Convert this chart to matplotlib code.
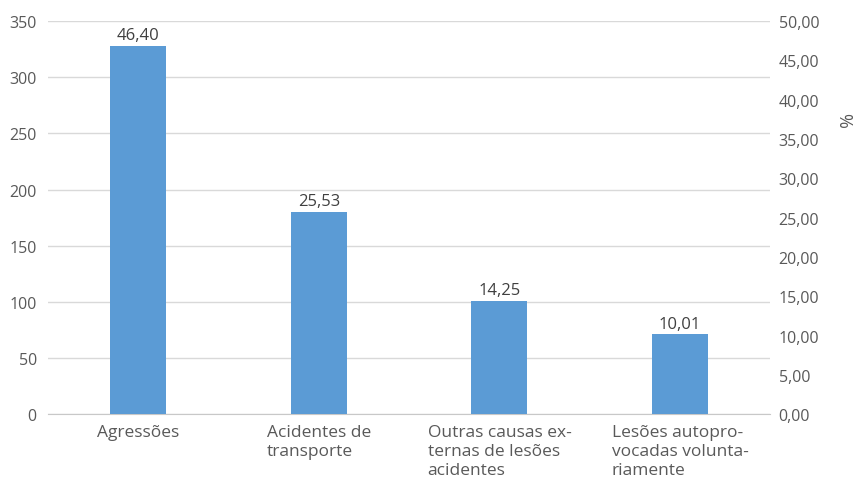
import matplotlib.pyplot as plt
import numpy as np

categories = ["Agressões", "Acidentes de\ntransporte", "Outras causas ex-\nternas de lesões\nacidentes",
              "Lesões autopro-\nvocadas volunta-\nriamente"]
counts = [328, 180, 101, 71]
percent_labels = ["46,40", "25,53", "14,25", "10,01"]
left_ticks = [0, 50, 100, 150, 200, 250, 300, 350]
right_ticks = [0, 5, 10, 15, 20, 25, 30, 35, 40, 45, 50]

plt.rcParams['font.family'] = ['Open Sans', 'DejaVu Sans']
txt = '#595959'
fig = plt.figure(figsize=(8.56, 4.81), dpi=100)
ax = fig.add_axes([0.056, 0.137, 0.844, 0.817])
x = np.arange(len(categories))
bars = ax.bar(x, counts, width=0.31, color='#5B9BD5', zorder=3)
ax.set_xlim(-0.5, len(categories) - 0.5)
ax.set_ylim(0, 350)
ax.set_yticks(left_ticks)
ax.set_yticklabels([str(t) for t in left_ticks], color=txt, fontsize=11.5)
ax.grid(axis='y', color='#d9d9d9', linewidth=1, zorder=0)
for s in ['top', 'right', 'left']:
    ax.spines[s].set_visible(False)
ax.spines['bottom'].set_color('#c8c8c8')
ax.tick_params(axis='y', length=0, pad=8)
ax.tick_params(axis='x', length=0, pad=7)
ax.set_xticks(x)
ax.set_xticklabels(categories, color=txt, fontsize=12.5, multialignment='left', linespacing=1.25, va='top')
for b, lab in zip(bars, percent_labels):
    ax.annotate(lab, (b.get_x() + b.get_width() / 2, b.get_height()), xytext=(0, 2),
                textcoords='offset points', ha='center', va='bottom', color='#404040', fontsize=12)

ax2 = ax.twinx()
ax2.set_ylim(0, 50)
ax2.set_yticks(right_ticks)
ax2.set_yticklabels([f"{t:.2f}".replace('.', ',') for t in right_ticks], color=txt, fontsize=11.5)
for s in ax2.spines.values():
    s.set_visible(False)
ax2.tick_params(axis='y', length=0, pad=6)
fig.text(0.985, 0.75, '%', rotation=270, color=txt, fontsize=13, ha='center', va='center')

fig.savefig('out.png', dpi=100)
